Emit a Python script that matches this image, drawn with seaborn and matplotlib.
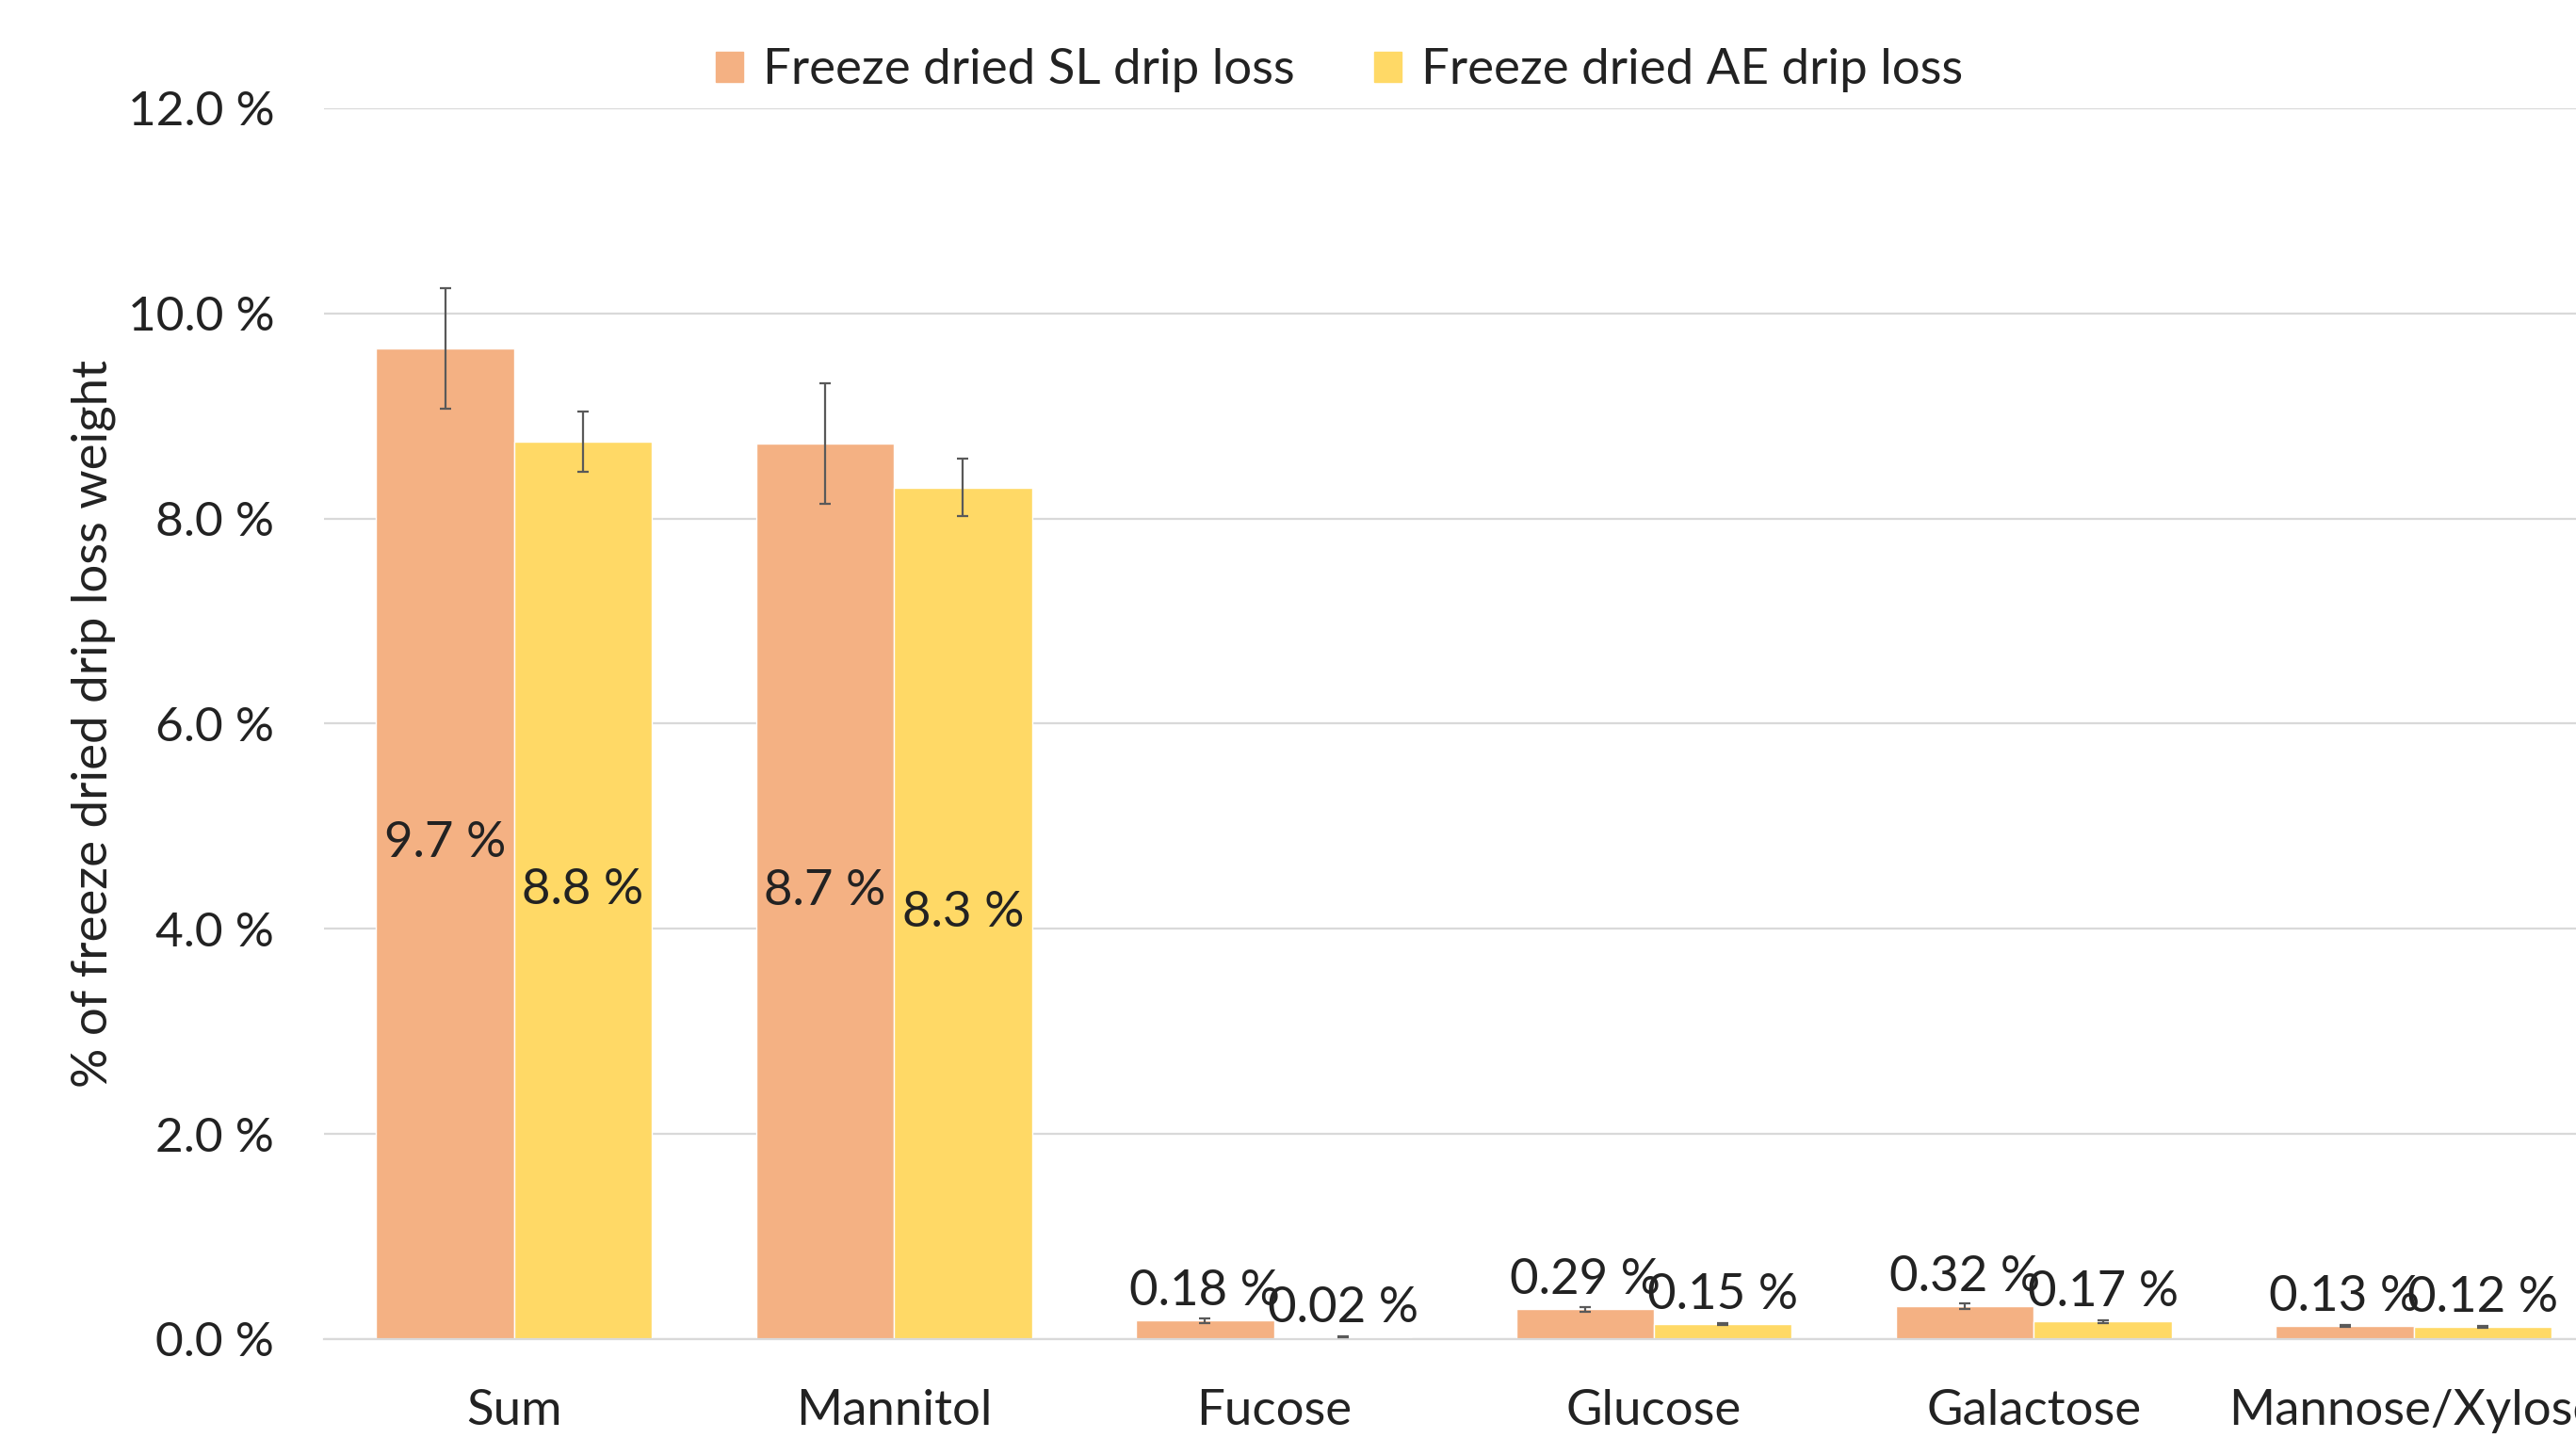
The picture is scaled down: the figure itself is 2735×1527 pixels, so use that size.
import matplotlib
matplotlib.use("Agg")
import matplotlib.pyplot as plt
import seaborn as sns
import pandas as pd

# data
sugars = ["Sum", "Mannitol", "Fucose", "Glucose", "Galactose", "Mannose/Xylose"]
series_names = ["Freeze dried SL drip loss", "Freeze dried AE drip loss"]
sl_values = [9.66, 8.73, 0.18, 0.29, 0.32, 0.13]
ae_values = [8.75, 8.30, 0.02, 0.15, 0.17, 0.12]
sl_errors = [0.59, 0.59, 0.02, 0.02, 0.03, 0.01]
ae_errors = [0.29, 0.28, 0.005, 0.01, 0.01, 0.01]
sl_labels = ["9.7 %", "8.7 %", "0.18 %", "0.29 %", "0.32 %", "0.13 %"]
ae_labels = ["8.8 %", "8.3 %", "0.02 %", "0.15 %", "0.17 %", "0.12 %"]
y_ticks = [0, 2, 4, 6, 8, 10, 12]

colors = ["#F4B183", "#FFD966"]
text_color = "#222222"
grid_color = "#D9D9D9"
fs = 38

df = pd.DataFrame({
    "sugar": sugars * 2,
    "value": sl_values + ae_values,
    "series": [series_names[0]] * len(sugars) + [series_names[1]] * len(sugars),
})

sns.set_theme(style="white")
plt.rcParams["font.family"] = ["Lato", "DejaVu Sans"]
plt.rcParams["text.color"] = text_color

fig = plt.figure(figsize=(27.35, 15.27), dpi=100)
ax = fig.add_axes([0.1258, 0.0688, 0.885, 0.8559])

sns.barplot(
    data=df, x="sugar", y="value", hue="series",
    palette=colors, width=0.726, saturation=1,
    errorbar=None, ax=ax, zorder=2,
)

# error bars and data labels per bar
errs_by_series = [sl_errors, ae_errors]
labels_by_series = [sl_labels, ae_labels]
for cont, errs, labs in zip(ax.containers, errs_by_series, labels_by_series):
    for bar, err, lab in zip(cont.patches, errs, labs):
        xc = bar.get_x() + bar.get_width() / 2
        h = bar.get_height()
        ax.errorbar(xc, h, yerr=err, fmt="none", ecolor="#595959",
                    elinewidth=1.6, capsize=4.3, capthick=1.6, zorder=3)
        if h > 1:
            ax.text(xc, h / 2, lab, ha="center", va="center",
                    fontsize=fs, color=text_color, zorder=4)
        else:
            ax.annotate(lab, (xc, h), xytext=(0, 5), textcoords="offset points",
                        ha="center", va="bottom", fontsize=fs,
                        color=text_color, zorder=4)

ax.set_xlim(-0.5, len(sugars) - 0.5)
ax.set_ylim(0, 12)
ax.set_yticks(y_ticks)
ax.set_yticklabels([f"{t:.1f} %" for t in y_ticks])
ax.yaxis.grid(True, color=grid_color, linewidth=1.6, zorder=0)
ax.set_axisbelow(True)
for side in ["top", "right", "left"]:
    ax.spines[side].set_visible(False)
ax.spines["bottom"].set_color(grid_color)
ax.spines["bottom"].set_linewidth(1.6)
ax.tick_params(axis="y", length=0, pad=38, labelsize=fs - 1, labelcolor=text_color)
ax.tick_params(axis="x", length=0, pad=38, labelsize=fs, labelcolor=text_color)
ax.set_xlabel("")
ax.set_ylabel("% of freeze dried drip loss weight", fontsize=fs,
              color=text_color, labelpad=9)

ax.get_legend().remove()
handles = [plt.Rectangle((0, 0), 1, 1, color=c) for c in colors]
fig.legend(handles, series_names, loc="center", bbox_to_anchor=(0.52, 0.951),
           ncol=2, frameon=False, fontsize=fs, handlelength=0.55,
           handleheight=0.55, handletextpad=0.4, columnspacing=1.6)

fig.savefig("out.png", dpi=100)
